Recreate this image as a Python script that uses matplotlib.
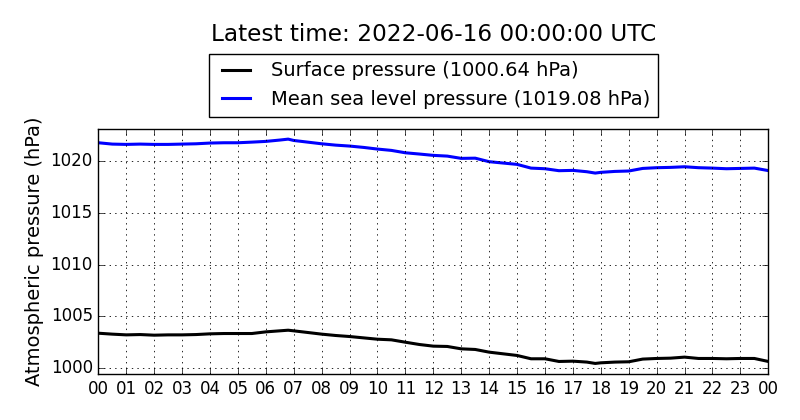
import matplotlib
matplotlib.use("Agg")
import matplotlib.pyplot as plt

title = "Latest time: 2022-06-16 00:00:00 UTC"
surface_label = "Surface pressure (1000.64 hPa)"
msl_label = "Mean sea level pressure (1019.08 hPa)"
ylabel = "Atmospheric pressure (hPa)"

hours = [0, 0.5, 1, 1.5, 2, 2.5, 3, 3.5, 4, 4.5, 5, 5.5, 6, 6.5, 6.8, 7, 7.5,
         8, 8.5, 9, 9.5, 10, 10.5, 11, 11.5, 12, 12.5, 13, 13.5, 14, 14.5, 15,
         15.5, 16, 16.5, 17, 17.5, 17.8, 18, 18.5, 19, 19.5, 20, 20.5, 21,
         21.5, 22, 22.5, 23, 23.5, 24]

surface = [1003.37, 1003.28, 1003.21, 1003.24, 1003.18, 1003.21, 1003.21,
           1003.24, 1003.31, 1003.34, 1003.34, 1003.34, 1003.50, 1003.60,
           1003.66, 1003.60, 1003.44, 1003.28, 1003.15, 1003.05, 1002.92,
           1002.79, 1002.73, 1002.50, 1002.28, 1002.12, 1002.09, 1001.86,
           1001.80, 1001.54, 1001.38, 1001.22, 1000.90, 1000.90, 1000.64,
           1000.67, 1000.58, 1000.45, 1000.51, 1000.58, 1000.61, 1000.87,
           1000.93, 1000.96, 1001.06, 1000.93, 1000.93, 1000.90, 1000.93,
           1000.93, 1000.64]

msl = [1021.77, 1021.64, 1021.61, 1021.64, 1021.61, 1021.61, 1021.64,
       1021.67, 1021.74, 1021.77, 1021.77, 1021.83, 1021.90, 1022.03,
       1022.12, 1021.99, 1021.83, 1021.67, 1021.54, 1021.45, 1021.32,
       1021.16, 1021.03, 1020.80, 1020.68, 1020.55, 1020.48, 1020.26,
       1020.28, 1019.94, 1019.81, 1019.68, 1019.32, 1019.26, 1019.07,
       1019.10, 1018.97, 1018.84, 1018.91, 1019.00, 1019.04, 1019.29,
       1019.36, 1019.39, 1019.45, 1019.36, 1019.32, 1019.26, 1019.29,
       1019.32, 1019.08]

tick_hours = list(range(25))
tick_labels = ["%02d" % (h % 24) for h in tick_hours]
yticks = [1000, 1005, 1010, 1015, 1020]

plt.style.use("classic")
plt.rcParams["font.family"] = ["DejaVu Sans"]

fig = plt.figure(figsize=(8, 4.2), dpi=100, facecolor="white")
ax = fig.add_axes([0.1229, 0.1088, 0.8375, 0.5841])
ax.set_facecolor("white")

ax.plot(hours, surface, color="black", lw=2.2, label=surface_label)
ax.plot(hours, msl, color="blue", lw=2.2, label=msl_label)

ax.set_xlim(0, 24)
ax.set_ylim(999.4, 1023.1)
ax.set_xticks(tick_hours)
ax.set_xticklabels(tick_labels, fontsize=12)
ax.set_yticks(yticks)
ax.set_yticklabels([str(v) for v in yticks], fontsize=12)
ax.minorticks_off()
ax.tick_params(direction="in", length=4, top=True, right=True)
ax.grid(True, linestyle=":", color="black", lw=0.6)
ax.set_ylabel(ylabel, fontsize=14)

leg = ax.legend(loc="lower center", bbox_to_anchor=(0.5, 1.049), fontsize=14,
                frameon=True, fancybox=False, borderaxespad=0,
                handlelength=2.0, handletextpad=0.8, borderpad=0.4,
                labelspacing=0.5)
leg.get_frame().set_edgecolor("black")

fig.text(0.5416, 0.917, title, ha="center", va="center", fontsize=16.7)

fig.savefig("out.png", dpi=100, facecolor="white")
